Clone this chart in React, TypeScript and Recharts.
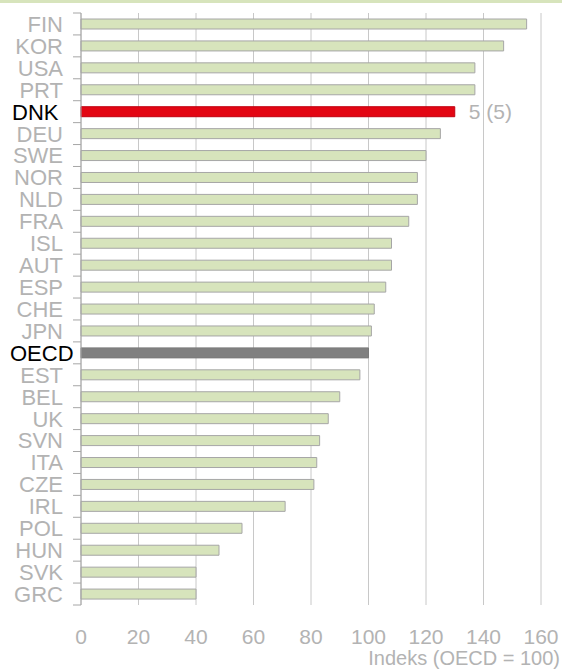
import { BarChart, Bar, XAxis, YAxis, CartesianGrid, Cell, Label } from 'recharts';

const countries = ['FIN', 'KOR', 'USA', 'PRT', 'DNK', 'DEU', 'SWE', 'NOR', 'NLD', 'FRA', 'ISL', 'AUT', 'ESP', 'CHE', 'JPN', 'OECD', 'EST', 'BEL', 'UK', 'SVN', 'ITA', 'CZE', 'IRL', 'POL', 'HUN', 'SVK', 'GRC'];
const indexValues = [155, 147, 137, 137, 130, 125, 120, 117, 117, 114, 108, 108, 106, 102, 101, 100, 97, 90, 86, 83, 82, 81, 71, 56, 48, 40, 40];
const xTicks = [0, 20, 40, 60, 80, 100, 120, 140, 160];
const dnkRank = '5 (5)';
const xTitle = 'Indeks (OECD = 100)';

const data = countries.map((name, i) => ({ name, value: indexValues[i] }));

const GREY_TEXT = '#b3b3b3';
const FONT = 'Liberation Sans, Arial, sans-serif';

function barColor(name: string) {
  if (name === 'DNK') return '#e30613';
  if (name === 'OECD') return '#808080';
  return '#d7e4bc';
}

// kategori-labels + små streger mellem kategorierne
function CountryTick(props: any) {
  const { x, y, payload, index } = props;
  const half = payload.offset || 10.96;
  const name = payload.value;
  const highlight = name === 'DNK' || name === 'OECD';
  return (
    <g>
      <line x1={x + 10} x2={x + 18} y1={y - half} y2={y - half} stroke="#a6a6a6" />
      {index === countries.length - 1 && (
        <line x1={x + 10} x2={x + 18} y1={y + half} y2={y + half} stroke="#a6a6a6" />
      )}
      {highlight ? (
        // de sorte labels sidder venstrestillet i originalen
        <text x={name === 'OECD' ? 10 : 12} y={y} dy="0.36em" textAnchor="start" fontSize={22} fontFamily={FONT} fill="#000">
          {name}
        </text>
      ) : (
        <text x={x} y={y} dy="0.36em" textAnchor="end" fontSize={22} fontFamily={FONT} fill={GREY_TEXT}>
          {name}
        </text>
      )}
    </g>
  );
}

function RankLabel(props: any) {
  const { x, y, width, height, index } = props;
  if (countries[index] !== 'DNK') return null;
  return (
    <text x={x + width + 14} y={y + height / 2} dy="0.36em" fontSize={21} fontFamily={FONT} fill={GREY_TEXT}>
      {dnkRank}
    </text>
  );
}

export default function App() {
  return (
    <div style={{ position: 'relative', width: 562, height: 669, background: '#fff' }}>
      <style>{'body{margin:0}'}</style>
      <div style={{ position: 'absolute', left: 0, top: 0, width: 562, height: 3, background: '#d7e4bc' }} />
      <BarChart
        width={562}
        height={669}
        data={data}
        layout="vertical"
        margin={{ top: 13, right: 21, bottom: 0, left: 0 }}
        barCategoryGap={0}
      >
        <CartesianGrid horizontal={false} stroke="#c8c8c8" />
        <XAxis
          type="number"
          domain={[0, 160]}
          ticks={xTicks}
          axisLine={false}
          tickLine={false}
          tickSize={6}
          tickMargin={18}
          height={64}
          tick={{ fill: GREY_TEXT, fontSize: 21, fontFamily: FONT }}
          interval={0}
        >
          <Label
            content={(p: any) => {
              const vb = p.viewBox;
              return (
                <text x={560} y={vb.y + vb.height - 4} textAnchor="end" fontSize={20} fontFamily={FONT} fill={GREY_TEXT}>
                  {xTitle}
                </text>
              );
            }}
          />
        </XAxis>
        <YAxis
          type="category"
          dataKey="name"
          width={81}
          axisLine={{ stroke: '#a6a6a6' }}
          tickLine={false}
          tickSize={7}
          tickMargin={11}
          interval={0}
          tick={<CountryTick />}
        />
        <Bar dataKey="value" barSize={10} stroke="#a6a6a6" strokeWidth={1} isAnimationActive={false} label={<RankLabel />}>
          {data.map((d) => (
            <Cell key={d.name} fill={barColor(d.name)} stroke={d.name === 'DNK' ? '#c00010' : d.name === 'OECD' ? '#7a7a7a' : '#a6a6a6'} />
          ))}
        </Bar>
      </BarChart>
    </div>
  );
}
